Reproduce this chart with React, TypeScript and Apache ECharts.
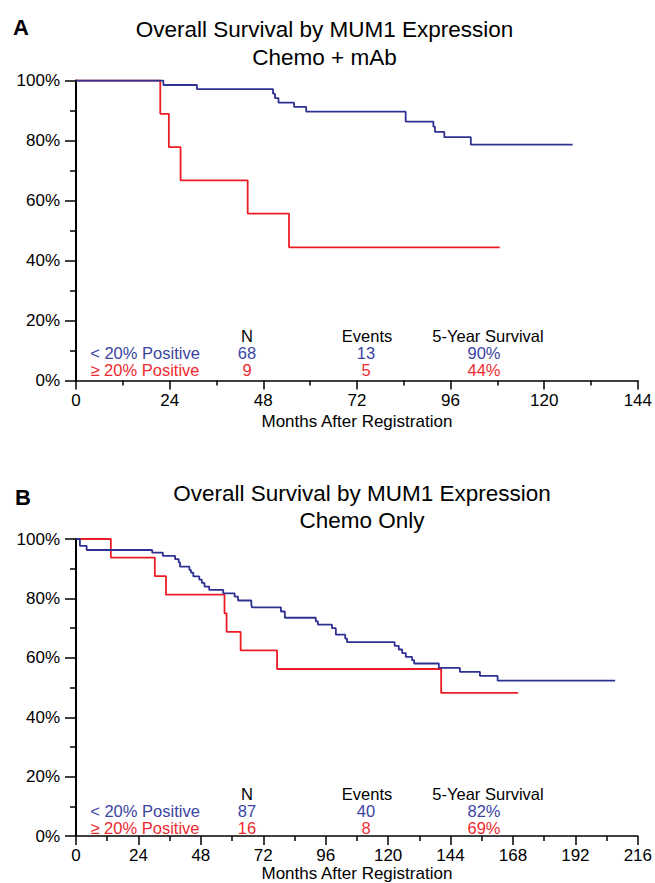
import React, { useEffect, useRef } from "react";
import * as echarts from "echarts";

// ---- Data ----
// Panel A: Chemo + mAb
const aBlueT = [0, 22.4, 31, 50.5, 51, 51.9, 55.9, 59, 84.5, 91.6, 92, 94.4, 101.2, 127.3];
const aBlueS = [100, 98.5, 97.1, 95.6, 94.1, 92.6, 91.2, 89.6, 86.3, 84.6, 82.9, 81.1, 78.6, 78.6];
const aRedT = [0, 21.6, 23.8, 26.8, 44, 54.6, 108.6];
const aRedS = [100, 88.9, 77.8, 66.7, 55.6, 44.4, 44.4];

// Panel B: Chemo Only
const bBlueT = [0, 1.5, 4.1, 29.3, 33.4, 38.1, 39.5, 40, 43.6, 44.2, 45.1, 47.4, 48.4, 49.4, 51.2, 56.6, 61, 62.3, 67.4, 67.6, 78.8, 80.3, 92.2, 93, 98.4, 99.9, 103.5, 104.2, 122.5, 124.1, 125.4, 126.8, 129.2, 130, 139.5, 147.6, 155.3, 162.1, 207.3];
const bBlueS = [100, 97.7, 96.3, 95.4, 94.3, 93.2, 92.1, 90.7, 89.6, 88.7, 87.4, 86.3, 85.2, 84.0, 82.9, 81.7, 80.6, 79.3, 78.2, 77.0, 75.6, 73.5, 72.3, 71.2, 70.0, 67.8, 66.5, 65.3, 64.0, 62.8, 61.6, 60.3, 59.2, 58.1, 56.6, 55.3, 53.9, 52.3, 52.3];
const bRedT = [0, 13.4, 30.3, 34.6, 57.1, 57.9, 63.3, 77.3, 140.4, 170];
const bRedS = [100, 93.75, 87.5, 81.25, 75, 68.75, 62.5, 56.25, 48.2, 48.2];

// Table
const tableHeaders = ["N", "Events", "5-Year Survival"];
const groupLabels = ["< 20% Positive", "\u2265 20% Positive"];
const aN = ["68", "9"];
const aEvents = ["13", "5"];
const aFiveYear = ["90%", "44%"];
const bN = ["87", "16"];
const bEvents = ["40", "8"];
const bFiveYear = ["82%", "69%"];

const titleMain = "Overall Survival by MUM1 Expression";
const aSubtitle = "Chemo + mAb";
const bSubtitle = "Chemo Only";
const xName = "Months After Registration";
const aXMax = 144;
const bXMax = 216;

const FONT = "'Liberation Sans', Arial, Helvetica, sans-serif";
const BLUE_LINE = "#2e3192";
const RED_LINE = "#ed1c24";
const BLUE_TEXT = "#3b44a3";
const RED_TEXT = "#ee2a2f";

const zip = (t: number[], s: number[]) => t.map((v, i) => [v, s[i]]);

function mkX(max: number, gi: number, nameGap: number) {
  return {
    type: "value",
    gridIndex: gi,
    min: 0,
    max,
    interval: 24,
    name: xName,
    nameLocation: "middle",
    nameGap,
    nameTextStyle: { fontSize: 17, color: "#000", fontFamily: FONT },
    axisLine: { show: true, onZero: false, lineStyle: { color: "#000", width: 1.5 } },
    axisTick: { show: true, length: 9, lineStyle: { color: "#000", width: 1.5 } },
    minorTick: { show: true, splitNumber: 2, length: 5, lineStyle: { color: "#000", width: 1.5 } },
    splitLine: { show: false },
    minorSplitLine: { show: false },
    axisLabel: { fontSize: 17, color: "#000", fontFamily: FONT, margin: 11 },
  };
}

function mkY(gi: number) {
  return {
    type: "value",
    gridIndex: gi,
    min: 0,
    max: 100,
    interval: 20,
    axisLine: { show: true, onZero: false, lineStyle: { color: "#000", width: 2 } },
    axisTick: { show: true, length: 11, lineStyle: { color: "#000", width: 1.5 } },
    minorTick: { show: true, splitNumber: 2, length: 6, lineStyle: { color: "#000", width: 1.5 } },
    splitLine: { show: false },
    minorSplitLine: { show: false },
    axisLabel: { fontSize: 17, color: "#000", fontFamily: FONT, margin: 16, formatter: "{value}%" },
  };
}

function txt(text: string, x: number, y: number, opts: any = {}) {
  return {
    type: "text",
    x,
    y,
    silent: true,
    style: {
      text,
      fill: opts.fill || "#000",
      fontSize: opts.fontSize || 16,
      fontFamily: FONT,
      fontWeight: opts.fontWeight || "normal",
      align: "center",
      verticalAlign: "middle",
      textAlign: "center",
      textVerticalAlign: "middle",
    },
  };
}

function table(headerY: number, row1Y: number, row2Y: number, n: string[], ev: string[], fy: string[]) {
  const colX = [247, 367, 488];
  const valX = [247, 366, 484];
  const rowsY = [row1Y, row2Y];
  const colors = [BLUE_TEXT, RED_TEXT];
  const out: any[] = [];
  tableHeaders.forEach((h, i) => out.push(txt(h, colX[i], headerY, { fontSize: 16.5 })));
  rowsY.forEach((ry, r) => {
    out.push(txt(groupLabels[r], 145, ry, { fill: colors[r], fontSize: 16.5 }));
    out.push(txt(n[r], valX[0], ry, { fill: colors[r], fontSize: 16.5 }));
    out.push(txt(ev[r], valX[1], ry, { fill: colors[r], fontSize: 16.5 }));
    out.push(txt(fy[r], valX[2], ry, { fill: colors[r], fontSize: 16.5 }));
  });
  return out;
}

function line(t: number[], s: number[], color: string, gi: number) {
  return {
    type: "line",
    xAxisIndex: gi,
    yAxisIndex: gi,
    step: "end",
    symbol: "none",
    silent: true,
    lineStyle: { color, width: 1.8 },
    data: zip(t, s),
  };
}

export default function App() {
  const ref = useRef<HTMLDivElement>(null);
  useEffect(() => {
    if (!ref.current) return;
    const chart = echarts.init(ref.current, undefined, { renderer: "svg" });
    chart.setOption({
      animation: false,
      backgroundColor: "#ffffff",
      grid: [
        { left: 76, top: 80.5, width: 565, height: 300 },
        { left: 76, top: 539, width: 565, height: 298 },
      ],
      xAxis: [mkX(aXMax, 0, 32), mkX(bXMax, 1, 27)],
      yAxis: [mkY(0), mkY(1)],
      series: [
        line(aRedT, aRedS, RED_LINE, 0),
        line(aBlueT, aBlueS, BLUE_LINE, 0),
        line(bRedT, bRedS, RED_LINE, 1),
        line(bBlueT, bBlueS, BLUE_LINE, 1),
      ],
      graphic: [
        txt("A", 21, 27, { fontSize: 22, fontWeight: "bold" }),
        txt(titleMain, 324.5, 29, { fontSize: 22.5 }),
        txt(aSubtitle, 324.5, 57, { fontSize: 22.5 }),
        txt("B", 23, 497, { fontSize: 22, fontWeight: "bold" }),
        txt(titleMain, 362, 493, { fontSize: 22.5 }),
        txt(bSubtitle, 362, 520, { fontSize: 22.5 }),
        ...table(335.5, 352.5, 369.5, aN, aEvents, aFiveYear),
        ...table(793.5, 810.5, 827.5, bN, bEvents, bFiveYear),
      ],
    });
    return () => chart.dispose();
  }, []);
  return (
    <div
      ref={ref}
      style={{ position: "fixed", left: 0, top: 0, width: 655, height: 883, background: "#fff" }}
    />
  );
}
